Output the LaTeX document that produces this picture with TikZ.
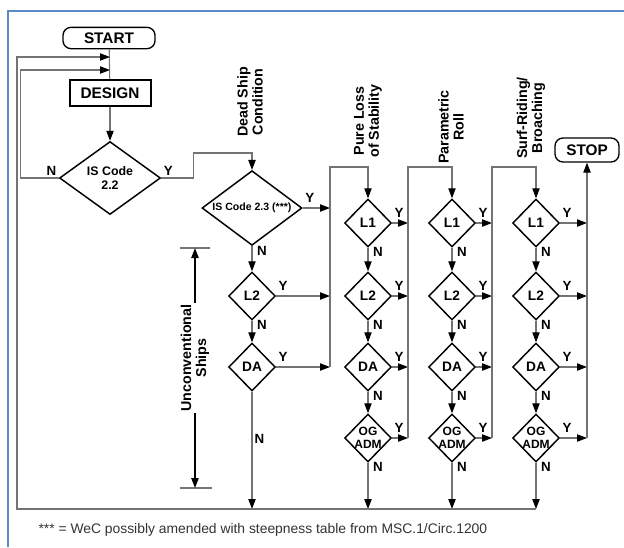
\documentclass[tikz,border=0pt]{standalone}
\usepackage{fontspec}
\setmainfont{Liberation Sans}
\usepackage{tikz}
\usetikzlibrary{shapes,arrows.meta}
\usetikzlibrary{positioning,calc}
\definecolor{framec}{RGB}{91,138,200}

\begin{document}
\begin{tikzpicture}[x=0.75pt,y=-0.75pt,thick]
\tikzstyle{dec}=[diamond,draw,line width=1.1pt,inner sep=0pt,minimum width=35pt,minimum height=36pt,font=\bfseries\fontsize{10.3}{11}\selectfont]
\tikzstyle{term}=[rectangle,rounded corners=6pt,draw,line width=1pt,minimum width=69pt,minimum height=16pt,font=\bfseries\fontsize{11.5}{13}\selectfont]
\tikzstyle{conn}=[draw=black!55,line width=0.8pt]
\tikzstyle{arr}=[conn,-{Triangle[length=7.5pt,width=5.5pt,color=black]}]
\tikzstyle{yn}=[font=\bfseries\fontsize{10}{11}\selectfont,inner sep=1.5pt]
\tikzstyle{colhead}=[rotate=90,align=center,font=\bfseries\fontsize{10.7}{11.3}\selectfont]
\useasboundingbox (0,0) rectangle (624,547);
\draw[framec,line width=1.5pt] (8,547) -- (8,11) -- (624,11);

% start and design
\node[term] (start) at (109,38) {START};
\node[term,rounded corners=0pt,line width=1.5pt,minimum width=60.75pt,minimum height=20pt] (design) at (110,93) {DESIGN};
\node[term,minimum width=48pt,minimum height=18pt] (stop) at (587,150) {STOP};
\node[dec,shape aspect=1.38,minimum width=75.75pt,minimum height=54.75pt,align=center,font=\bfseries\fontsize{9.3}{11}\selectfont] (c22) at (110,178) {IS Code\\2.2};

% dead ship condition
\node[dec,shape aspect=1.34,minimum width=75pt,minimum height=56pt,font=\bfseries\fontsize{7.9}{9}\selectfont] (c23) at (252,208) {IS Code 2.3 (***)};
\node[dec] (dl2) at (252,296) {L2};
\node[dec] (dda) at (252,367) {DA};

% three failure modes
\foreach \c/\x in {a/368,b/452,c/536} {
  \node[dec] (\c1) at (\x,223) {L1};
  \node[dec] (\c2) at (\x,296) {L2};
  \node[dec] (\c3) at (\x,367) {DA};
  \node[dec,align=center,inner sep=-2.5pt,font=\bfseries\fontsize{9}{9.8}\selectfont] (\c4) at (\x,438) {OG\\ADM};
}

\node[colhead] (hd) at (250,102) {Dead Ship\\Condition};
\node[colhead] (ha) at (368,121) {Pure Loss\\of Stability};
\node[colhead] (hb) at (451,127) {Parametric\\Roll};
\node[colhead] (hc) at (531,118) {Surf-Riding/\\Broaching};

\coordinate (j1) at (110,57);
\coordinate (j2) at (110,70);
\coordinate (bot) at (17,509);
\coordinate (fa) at (330,167);
\coordinate (fb) at (408,167);
\coordinate (fc) at (492,167);

\draw[conn] (start) -- (design);
\draw[arr] (design) -- (c22);
\draw[arr] (c22.west) node[yn,anchor=south east] (n22) {N} -- ++(-38,0) |- (j2);
\draw[arr] (c22.east) node[yn,anchor=south west] (y22) {Y} -- ++(32,0) |- (252,153) -- (c23.north);

\draw[arr] (c23.east) node[yn,anchor=south west,yshift=2pt] (y23) {Y} -- (c23.east -| fa);
\draw[arr] (c23.south) node[yn,anchor=north west,xshift=2pt,yshift=2pt] (n23) {N} -- (dl2.north);
\draw[arr] (dl2.east) node[yn,anchor=south west,yshift=2pt] (ydl2) {Y} -- (dl2.east -| fa);
\draw[arr] (dl2.south) node[yn,anchor=north west,xshift=2pt,yshift=2pt] (ndl2) {N} -- (dda.north);
\draw[arr] (dda.east) node[yn,anchor=south west,yshift=2pt] (ydda) {Y} -- (dda.east -| fa);
\draw[arr] (dda.south) -- node[yn,right,pos=0.4] (ndda) {N} (dda |- bot);

\foreach \c/\f in {a/fb,b/fc,c/stop} {
  \foreach \i in {1,2,3,4}
    \draw[arr] (\c\i.east) node[yn,anchor=south west,yshift=2pt] (y\c\i) {Y} -- (\c\i.east -| \f);
  \foreach \i/\j in {1/2,2/3,3/4}
    \draw[arr] (\c\i.south) node[yn,anchor=north west,xshift=2pt,yshift=2pt] (n\c\i) {N} -- (\c\j.north);
  \draw[arr] (\c4.south) node[yn,anchor=north west,xshift=2pt,yshift=2pt] (n\c4) {N} -- (\c4 |- bot);
}

\draw[arr] (dda.east -| fa) -- (fa) -| (a1.north);
\draw[arr] (a4.east -| fb) -- (fb) -| (b1.north);
\draw[arr] (b4.east -| fc) -- (fc) -| (c1.north);
\draw[arr] (c4.east -| stop) -- (stop.south);
\draw[arr] (c4 |- bot) -- (bot) |- (j1);

% unconventional ships
\draw[conn] (180,248) -- (210,248);
\draw[conn] (180,488) -- (212,488);
\draw[line width=1.1pt,{Triangle[length=7.5pt,width=5.5pt]}-{Triangle[length=7.5pt,width=5.5pt]}] (195,248) -- (195,488);
\node[colhead,fill=white,inner sep=1pt] (us) at (195,358) {Unconventional\\Ships};

\node[anchor=west,inner sep=0pt,text=black!80,font=\fontsize{10.4}{12}\selectfont] (note) at (38,530) {*** = WeC possibly amended with steepness table from MSC.1/Circ.1200};
\end{tikzpicture}
\end{document}
